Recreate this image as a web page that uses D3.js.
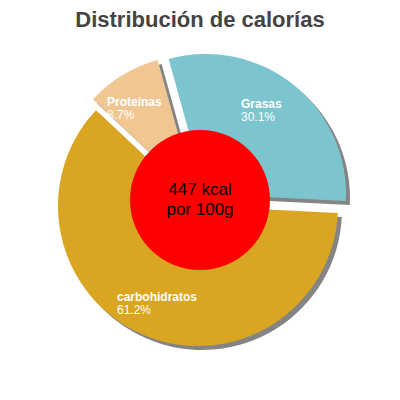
<!DOCTYPE html><html><head><meta charset="utf-8"><script src="https://cdn.jsdelivr.net/npm/d3@7"></script>
<style>body{margin:0;background:#fff}</style></head><body><svg id="c" width="400" height="400"></svg><script>
const labels=["Grasas","carbohidratos","Proteínas"];
const values=[30.1,61.2,8.7];
const colors=["#7cc5ce","#daa521","#f0c692"];
const offsets=[[6,-6],[-2,6],[-5,-5]];
const labelPos=[[241,108],[117,301],[107,106]];
const svg=d3.select("#c");
svg.append("text").attr("x",200).attr("y",27).attr("text-anchor","middle").attr("font-family","Liberation Sans, Arial").attr("font-weight","bold").attr("font-size",22).attr("fill","#444").text("Distribución de calorías");
const a0=-0.27;
const pie=d3.pie().sort(null).startAngle(a0).endAngle(a0+2*Math.PI)(values);
const arc=d3.arc().innerRadius(0).outerRadius(140);
const g=svg.append("g").attr("transform","translate(200,200)");
pie.forEach((p,i)=>{g.append("path").attr("d",arc(p)).attr("fill","#777").attr("opacity",0.9).attr("transform",`translate(${offsets[i][0]+4},${offsets[i][1]+4})`);});
pie.forEach((p,i)=>{g.append("path").attr("d",arc(p)).attr("fill",colors[i]).attr("transform",`translate(${offsets[i][0]},${offsets[i][1]})`);});
g.append("circle").attr("r",70).attr("fill","#ff0000");
const t=g.append("text").attr("text-anchor","middle").attr("font-family","Liberation Sans, Arial").attr("font-size",17).attr("fill","#000");
t.append("tspan").attr("x",0).attr("y",-5).text("447 kcal");
t.append("tspan").attr("x",0).attr("y",15).text("por 100g");
labels.forEach((l,i)=>{
svg.append("text").attr("x",labelPos[i][0]).attr("y",labelPos[i][1]).attr("font-family","Liberation Sans, Arial").attr("font-size",12).attr("font-weight","bold").attr("fill","#fff").text(l);
svg.append("text").attr("x",labelPos[i][0]).attr("y",labelPos[i][1]+13).attr("font-family","Liberation Sans, Arial").attr("font-size",12).attr("fill","#fff").text(values[i]+"%");});
</script></body></html>
